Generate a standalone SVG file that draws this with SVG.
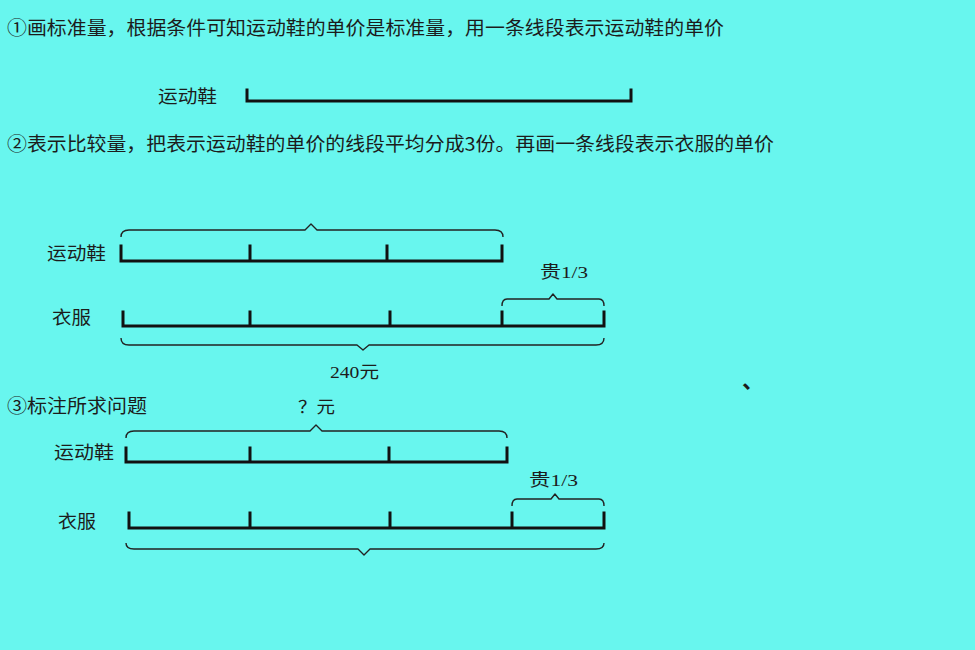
<svg xmlns="http://www.w3.org/2000/svg" width="975" height="650" viewBox="0 0 975 650">
<style>
.t{font-family:"Noto Sans CJK SC","Noto Sans",sans-serif;fill:#1c1c1c;}
.s{font-family:"Liberation Serif","Noto Sans CJK SC",serif;fill:#1c1c1c;}
.bar{fill:none;stroke:#111;stroke-width:3;stroke-linecap:square;}
.br{fill:none;stroke:#222;stroke-width:1.4;stroke-linejoin:round;}
</style>
<rect width="975" height="650" fill="#68F6EE"/>
<g id="titles">
<text class="t" x="7" y="35" font-size="19" textLength="717" lengthAdjust="spacingAndGlyphs">①画标准量，根据条件可知运动鞋的单价是标准量，用一条线段表示运动鞋的单价</text>
<text class="t" x="7" y="151" font-size="19" textLength="767" lengthAdjust="spacingAndGlyphs">②表示比较量，把表示运动鞋的单价的线段平均分成3份。再画一条线段表示衣服的单价</text>
<text class="t" x="7" y="413" font-size="19" textLength="140" lengthAdjust="spacingAndGlyphs">③标注所求问题</text>
<text class="t" x="742" y="388" font-size="22" font-weight="bold">、</text>
</g>
<g id="step1">
<text class="t" x="158" y="103" font-size="18" textLength="59" lengthAdjust="spacingAndGlyphs">运动鞋</text>
<path class="bar" d="M247,90 V101 H631 V90"/>
</g>
<g id="step2">
<text class="t" x="47" y="260" font-size="18" textLength="59" lengthAdjust="spacingAndGlyphs">运动鞋</text>
<path class="bar" d="M121,246 V261 H502 V246 M250,246 V261 M387,246 V261"/>
<text class="t" x="52" y="324" font-size="18" textLength="39" lengthAdjust="spacingAndGlyphs">衣服</text>
<path class="bar" d="M123,312 V326 H604 V312 M250,312 V326 M390,312 V326 M502,312 V326"/>
<text class="s" x="540" y="278" font-size="17" textLength="48" lengthAdjust="spacingAndGlyphs">贵1/3</text>
<text class="s" x="330" y="378" font-size="17" textLength="49" lengthAdjust="spacingAndGlyphs">240元</text>
</g>
<g id="step3">
<text class="t" x="54" y="459" font-size="18" textLength="60" lengthAdjust="spacingAndGlyphs">运动鞋</text>
<path class="bar" d="M126,448 V462 H507 V448 M250,448 V462 M389,448 V462"/>
<text class="t" x="58" y="528" font-size="18" textLength="38" lengthAdjust="spacingAndGlyphs">衣服</text>
<path class="bar" d="M129,513 V528 H604 V513 M250,513 V528 M390,513 V528 M512,513 V528"/>
<text class="s" x="529" y="486" font-size="17" textLength="49" lengthAdjust="spacingAndGlyphs">贵1/3</text>
<text class="s" x="298" y="413" font-size="17" textLength="37" lengthAdjust="spacingAndGlyphs">？元</text>
</g>
<g id="connectors">
<path class="br" d="M121,237 Q121,230 129,230 L305,230 L311,224 L317,230 L495,230 Q503,230 503,237"/>
<path class="br" d="M502,306 Q502,299 507,299 L549,299 L553,294 L557,299 L599,299 Q604,299 604,306"/>
<path class="br" d="M121,338 Q121,345 129,345 L357,345 L363,350 L369,345 L596,345 Q604,345 604,338"/>
<path class="br" d="M126,438 Q126,431 134,431 L310,431 L316,425 L322,431 L499,431 Q507,431 507,438"/>
<path class="br" d="M512,506 Q512,499 517,499 L551,499 L555,494 L559,499 L599,499 Q604,499 604,506"/>
<path class="br" d="M126,543 Q126,549 134,549 L358,549 L364,555 L370,549 L596,549 Q604,549 604,543"/>
</g>
</svg>
